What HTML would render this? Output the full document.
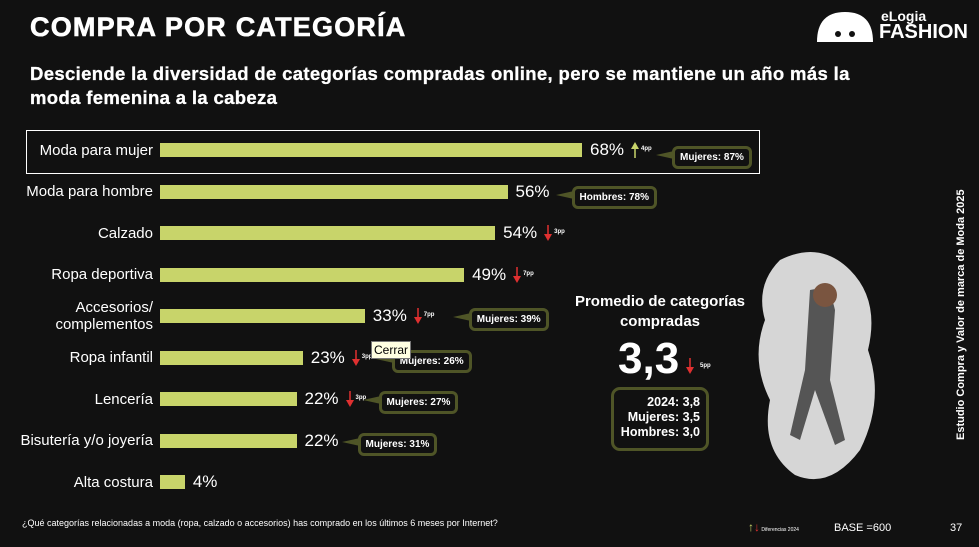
<!DOCTYPE html>
<html><head><meta charset="utf-8">
<style>
body{margin:0;width:979px;height:547px;background:#111111;overflow:hidden;font-family:"Liberation Sans",sans-serif;color:#fff;position:relative}
.abs{position:absolute}
.title{left:30px;top:12px;font-size:27px;font-weight:900;letter-spacing:1.2px;-webkit-text-stroke:0.6px #fff}
.sub{left:30px;top:62px;font-size:18.5px;font-weight:bold;line-height:24px;width:930px;letter-spacing:0.35px;-webkit-text-stroke:0.3px #fff;white-space:nowrap}
.lbl{position:absolute;font-size:15px;text-align:right;right:826px;line-height:17px}
.pct{position:absolute;font-size:17px}
.call{position:absolute;border:3px solid #4f5527;border-radius:6px;font-size:10px;font-weight:bold;padding:3px 5px;background:#111}
.pp{position:absolute;font-size:6px;font-weight:bold}
</style></head><body>
<div class="abs title">COMPRA POR CATEGORÍA</div>
<div class="abs" style="left:815px;top:8px;width:160px;height:36px">
 <svg width="60" height="36" style="position:absolute;left:0;top:0"><path d="M2 34 Q2 4 30 4 Q58 4 58 34 Z" fill="#fff"/><circle cx="23" cy="26" r="3" fill="#111"/><circle cx="37" cy="26" r="3" fill="#111"/></svg>
 <div style="position:absolute;left:66px;top:0;font-size:14px;font-weight:bold">eLogia</div>
 <div style="position:absolute;left:64px;top:13px;font-size:20px;font-weight:900">FASHION</div>
</div>
<div class="abs sub">Desciende la diversidad de categorías compradas online, pero se mantiene un año más la<br>moda femenina a la cabeza</div>
<div class="abs" style="left:26px;top:130px;width:732px;height:42px;border:1px solid #fff"></div>
<div id="chart"></div>
<div class="abs" style="left:560px;top:292px;width:200px;text-align:center;font-size:15px;font-weight:bold;line-height:20px">Promedio de categorías compradas</div>
<div class="abs" style="left:618px;top:334px;font-size:44px;font-weight:bold">3,3</div>
<svg class="abs" style="left:685px;top:358px" width="10" height="16"><line x1="5" y1="0" x2="5" y2="10" stroke="#e03030" stroke-width="1.5"/><path d="M1 9 L9 9 L5 16Z" fill="#e03030"/></svg>
<div class="pp" style="left:700px;top:363px">5pp</div>
<div class="abs" style="left:611px;top:387px;width:86px;height:53px;border:3px solid #4f5527;border-radius:9px;text-align:right;font-size:12.5px;font-weight:bold;line-height:15px;padding:5px 6px 0 0;box-sizing:content-box">2024: 3,8<br>Mujeres: 3,5<br>Hombres: 3,0</div>
<svg class="abs" style="left:740px;top:240px" width="150" height="250"><path d="M40 20 Q80 0 110 30 Q140 60 128 110 Q145 160 120 210 Q90 250 55 235 Q20 210 30 160 Q10 120 25 80 Q15 45 40 20Z" fill="#d6d6d6"/><path d="M70 50 Q90 45 95 70 L90 140 L105 200 L95 205 L75 150 L60 200 L50 195 L65 130 Z" fill="#555"/><circle cx="85" cy="55" r="12" fill="#7a5540"/></svg>
<div class="abs" style="left:955px;top:440px;transform:rotate(-90deg);transform-origin:0 0;font-size:11px;font-weight:bold;white-space:nowrap">Estudio Compra y Valor de marca de Moda 2025</div>
<div class="abs" style="left:22px;top:518px;font-size:9px">¿Qué categorías relacionadas a moda (ropa, calzado o accesorios) has comprado en los últimos 6 meses por Internet?</div>
<div class="abs" style="left:748px;top:520px;font-size:5px"><span style="color:#c8d46a;font-size:12px">↑</span><span style="color:#e03030;font-size:12px">↓</span> Diferencias 2024</div>
<div class="abs" style="left:834px;top:522px;font-size:11px">BASE =600</div>
<div class="abs" style="left:950px;top:522px;font-size:11px">37</div>
<div class="abs" style="left:371px;top:341px;background:#ffffe1;color:#000;border:1px solid #777;font-size:12px;padding:1px 2px;z-index:5">Cerrar</div>
<script>
const categories=["Moda para mujer","Moda para hombre","Calzado","Ropa deportiva","Accesorios/\ncomplementos","Ropa infantil","Lencería","Bisutería y/o joyería","Alta costura"];
const values=[68,56,54,49,33,23,22,22,4];
const changes=[4,null,-3,-7,-7,-3,-3,null,null];
const callouts=["Mujeres: 87%","Hombres: 78%",null,null,"Mujeres: 39%","Mujeres: 26%","Mujeres: 27%","Mujeres: 31%",null];
const x0=160, scale=422/68, y0=150, step=41.5, bh=14;
const xs=v=>x0+v*scale, ys=i=>y0+i*step;
const chart=document.getElementById('chart');
categories.forEach((c,i)=>{
  const y=ys(i);
  const l=document.createElement('div');l.className='lbl';
  
  
  l.innerHTML=c.replace('\n','<br>');
  const lines=c.split('\n').length;l.style.top=(y-8.5*lines)+'px';chart.appendChild(l);
  const b=document.createElement('div');b.className='abs';
  
  
  b.style.cssText=`left:${x0}px;top:${y-bh/2}px;width:${xs(values[i])-x0}px;height:${bh}px;background:#c8d46a`;
  chart.appendChild(b);
  const p=document.createElement('div');p.className='pct';
  
  
  p.textContent=values[i]+'%';p.style.left=(xs(values[i])+8)+'px';p.style.top=(y-10)+'px';chart.appendChild(p);
  let nx=xs(values[i])+48;
  if(changes[i]!==null){
    const up=changes[i]>0,col=up?'#c8d46a':'#e03030';
    const a=document.createElementNS('http://www.w3.org/2000/svg','svg');
    
    
    a.setAttribute('width','10');a.setAttribute('height','16');
    a.style.cssText=`position:absolute;left:${nx}px;top:${y-8}px`;
    a.innerHTML=up?`<path d="M1 7 L9 7 L5 0Z" fill="${col}"/><line x1="5" y1="6" x2="5" y2="16" stroke="${col}" stroke-width="1.5"/>`:`<line x1="5" y1="0" x2="5" y2="10" stroke="${col}" stroke-width="1.5"/><path d="M1 9 L9 9 L5 16Z" fill="${col}"/>`;
    chart.appendChild(a);
    const t=document.createElement('div');t.className='pp';
    
    
    t.textContent=Math.abs(changes[i])+'pp';t.style.left=(nx+11)+'px';t.style.top=(y-4)+'px';chart.appendChild(t);
    nx+=26;
  }
  if(callouts[i]){
    const off=[10,0,0,0,24,9,2,-3,0][i];
    const cx=(changes[i]!==null?nx+6:nx+16)+off;
    const k=document.createElement('div');k.className='call';
    
    
    k.textContent=callouts[i];k.style.left=cx+'px';k.style.top=(y-9+(i===0?5:i===1?3:1))+'px';chart.appendChild(k);
    const s=document.createElementNS('http://www.w3.org/2000/svg','svg');
    
    
    s.setAttribute('width','20');s.setAttribute('height','12');
    s.style.cssText=`position:absolute;left:${cx-16}px;top:${y-6+(i===0?5:i===1?3:1)}px`;
    s.innerHTML='<path d="M0 6 L18 2 L18 10Z" fill="#4f5527"/>';
    chart.appendChild(s);
  }
});
</script>
</body></html>
